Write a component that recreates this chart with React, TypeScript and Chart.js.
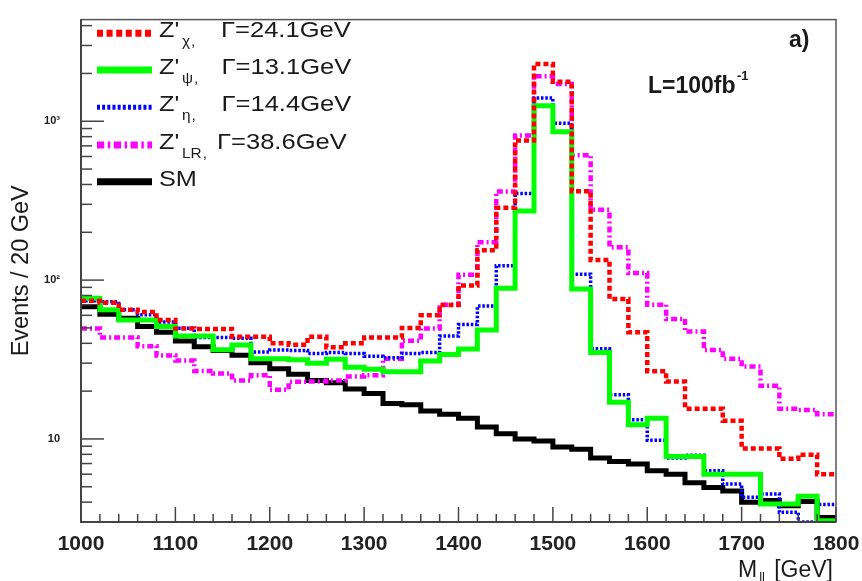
import React, { useEffect, useRef } from 'react';
import { Chart, registerables } from 'chart.js';

Chart.register(...registerables);

// Bin low edges (20 GeV bins) and upper edge of last bin
const binLowEdges = [
  1000, 1020, 1040, 1060, 1080, 1100, 1120, 1140, 1160, 1180,
  1200, 1220, 1240, 1260, 1280, 1300, 1320, 1340, 1360, 1380,
  1400, 1420, 1440, 1460, 1480, 1500, 1520, 1540, 1560, 1580,
  1600, 1620, 1640, 1660, 1680, 1700, 1720, 1740, 1760, 1780,
];
const lastUpperEdge = 1800;

const zChi = [
  74, 72, 65, 63, 56, 49.5, 49.3, 49.3, 44, 44,
  40, 39.2, 44, 37.8, 40, 43.5, 43.5, 50, 60, 69.7,
  92.5, 154, 285, 757, 2296, 1770, 362, 134, 76, 47,
  26.7, 23, 15.5, 15.5, 13, 8.7, 8.7, 7.5, 7.95, 6.0,
];
const zPsi = [
  77, 65, 56, 56, 51, 44.5, 44.5, 36.5, 39, 32,
  32, 31.5, 30, 31.7, 28.3, 27.5, 26.5, 26.5, 31, 34,
  36.8, 48.5, 89, 272, 1250, 860, 88, 35, 17, 12.3,
  13.5, 7.75, 7.75, 6.0, 6.0, 6.0, 3.9, 3.9, 4.35, 3.05,
];
const zEta = [
  74, 73, 65, 60.5, 54.5, 49.7, 43.5, 43.5, 43, 35.3,
  36.3, 36, 34.5, 35, 34.5, 33.2, 32.4, 34.5, 35, 44.5,
  52.5, 68.7, 123, 351, 1400, 973, 109, 37, 19, 13.2,
  9.8, 7.6, 7.9, 6.3, 5.2, 4.3, 4.5, 3.45, 3.0, 3.87,
];
const zLR = [
  49.5, 43.5, 43.5, 38.3, 33.5, 31.2, 26.8, 25.8, 23.3, 25.2,
  20.4, 22.9, 23, 23.3, 24.7, 25.2, 32, 41.5, 49.5, 70,
  108, 173, 361, 812, 1918, 1714, 611, 277, 161, 111,
  70, 57, 47.5, 36.3, 32, 28.6, 21.6, 15.5, 15.2, 14.3,
];
const smBackground = [
  68, 61, 57.5, 51, 47, 41.4, 38, 36, 33.7, 30.2,
  27.7, 25.5, 23.3, 22.6, 20.6, 19.3, 16.7, 16.4, 15.0, 14.3,
  13.5, 11.9, 10.8, 10.0, 9.7, 8.9, 8.6, 7.6, 7.2, 6.95,
  6.3, 6.0, 5.3, 4.95, 4.7, 4.0, 4.1, 3.8, 4.04, 3.2,
];

const yTickValues = [10, 100, 1000];
const yTickLabels = ['10', '10²', '10³'];

const legendMain = ["Z'", "Z'", "Z'", "Z'", 'SM'];
const legendSub = ['χ', 'ψ', 'η', 'LR', ''];
const legendWidth = ['Γ=24.1GeV', 'Γ=13.1GeV', 'Γ=14.4GeV', 'Γ=38.6GeV', ''];

const FONT = '"Liberation Sans", Arial, Helvetica, sans-serif';
const TEXT = '#1a1a1a';

type Style = { color: string; width: number; dash: number[]; lw: number };
const styles: Style[] = [
  { color: '#ff0000', width: 4.5, dash: [5, 3], lw: 7 },
  { color: '#00ff00', width: 5, dash: [], lw: 7 },
  { color: '#0000ff', width: 3.5, dash: [2.5, 1.8], lw: 5 },
  { color: '#ff00ff', width: 4.5, dash: [6, 3, 2, 3], lw: 7 },
  { color: '#000000', width: 5, dash: [], lw: 7 },
];

function toSteps(vals: number[]) {
  const pts = binLowEdges.map((x, i) => ({ x, y: vals[i] }));
  pts.push({ x: lastUpperEdge, y: vals[vals.length - 1] });
  return pts;
}

function drawScaled(ctx: CanvasRenderingContext2D, s: string, x: number, y: number, sx: number) {
  ctx.save();
  ctx.translate(x, y);
  ctx.scale(sx, 1);
  ctx.fillText(s, 0, 0);
  ctx.restore();
}

const overlay = {
  id: 'overlay',
  afterDatasetsDraw(chart: any) {
    const { ctx, chartArea } = chart;
    const { left, right, top, bottom } = chartArea;
    const xs = chart.scales.x;
    const ys = chart.scales.y;
    ctx.save();
    ctx.setLineDash([]);
    // frame
    ctx.strokeStyle = '#555';
    ctx.lineWidth = 1.5;
    ctx.strokeRect(left, top, right - left, bottom - top);
    ctx.lineWidth = 2;
    ctx.strokeStyle = '#444';
    ctx.beginPath();
    ctx.moveTo(left, top);
    ctx.lineTo(left, bottom);
    ctx.lineTo(right, bottom);
    ctx.stroke();
    // x ticks (inside)
    ctx.lineWidth = 1.5;
    for (let v = xs.min; v <= xs.max; v += 20) {
      const px = xs.getPixelForValue(v);
      const len = v % 100 === 0 ? 15 : 8;
      ctx.beginPath();
      ctx.moveTo(px, bottom);
      ctx.lineTo(px, bottom - len);
      ctx.stroke();
    }
    // y ticks (inside)
    for (const dec of [1, 10, 100, 1000]) {
      for (let m = 1; m <= 9; m++) {
        const val = m * dec;
        if (val < ys.min || val > ys.max) continue;
        const py = ys.getPixelForValue(val);
        const len = m === 1 ? 23 : 11;
        ctx.beginPath();
        ctx.moveTo(left, py);
        ctx.lineTo(left + len, py);
        ctx.stroke();
      }
    }

    // legend
    const rowY = [33.3, 70, 107.3, 145, 181.7];
    const gx = [221, 221.5, 221.5, 217, 0];
    for (let i = 0; i < legendMain.length; i++) {
      const st = styles[i];
      ctx.strokeStyle = st.color;
      ctx.lineWidth = st.lw;
      ctx.setLineDash(st.dash.map((d) => d * 1.2));
      ctx.beginPath();
      ctx.moveTo(97, rowY[i]);
      ctx.lineTo(152, rowY[i]);
      ctx.stroke();
      ctx.setLineDash([]);
      ctx.fillStyle = TEXT;
      ctx.textBaseline = 'alphabetic';
      ctx.textAlign = 'left';
      ctx.font = `22px ${FONT}`;
      const base = rowY[i] + 4;
      drawScaled(ctx, legendMain[i], 159, base, 1.15);
      if (legendSub[i]) {
        ctx.font = `14px ${FONT}`;
        drawScaled(ctx, legendSub[i], 182, base + 9, 1.1);
        const w = ctx.measureText(legendSub[i]).width * 1.1;
        drawScaled(ctx, ',', 183 + w, base + 9, 1.1);
        ctx.font = `22px ${FONT}`;
        drawScaled(ctx, legendWidth[i], gx[i], base, 1.16);
      }
    }

    // annotations
    ctx.fillStyle = TEXT;
    ctx.font = `bold 23px ${FONT}`;
    ctx.fillText('a)', 789, 47);
    ctx.fillText('L=100fb', 648, 93);
    ctx.font = `bold 13px ${FONT}`;
    ctx.fillText('-1', 737, 80);

    // x-axis title
    ctx.font = `23px ${FONT}`;
    ctx.fillText('M', 738, 577);
    const mw = ctx.measureText('M').width;
    ctx.font = `13px ${FONT}`;
    ctx.fillText('ll', 738 + mw + 2, 581);
    ctx.font = `23px ${FONT}`;
    ctx.textAlign = 'right';
    ctx.fillText('[GeV]', 833, 577);
    ctx.restore();
  },
};

export default function App() {
  const ref = useRef<HTMLCanvasElement | null>(null);
  useEffect(() => {
    if (!ref.current) return;
    const series = [zChi, zPsi, zEta, zLR, smBackground];
    const names = ["Z'χ", "Z'ψ", "Z'η", "Z'LR", 'SM'];
    const datasets = series.map((vals, i) => ({
      label: names[i],
      data: toSteps(vals),
      stepped: 'before' as const,
      borderColor: styles[i].color,
      borderWidth: styles[i].width,
      borderDash: styles[i].dash,
      pointRadius: 0,
      fill: false,
      tension: 0,
      order: i + 1,
    }));
    const chart = new Chart(ref.current, {
      type: 'line',
      data: { datasets },
      options: {
        animation: false,
        responsive: false,
        devicePixelRatio: 1,
        layout: { padding: { top: 8, right: 26, left: 0, bottom: 0 } },
        plugins: { legend: { display: false }, tooltip: { enabled: false } },
        scales: {
          x: {
            type: 'linear',
            min: 1000,
            max: 1800,
            grid: { display: false },
            border: { display: false },
            ticks: {
              stepSize: 100,
              autoSkip: false,
              maxRotation: 0,
              padding: 2,
              color: '#222',
              font: { family: FONT, size: 21, weight: 'bold' },
              callback: (v: any) => String(v),
            },
            afterFit: (s: any) => {
              s.height = 59;
            },
          },
          y: {
            type: 'logarithmic',
            min: 3,
            max: 4365,
            grid: { display: false },
            border: { display: false },
            afterBuildTicks: (s: any) => {
              s.ticks = yTickValues.map((v) => ({ value: v }));
            },
            ticks: {
              padding: 13,
              color: '#222',
              font: { family: FONT, size: 11, weight: 'bold' },
              callback: (v: any) => {
                const i = yTickValues.indexOf(Number(v));
                return i >= 0 ? yTickLabels[i] : '';
              },
            },
            title: {
              display: true,
              text: 'Events / 20 GeV',
              color: TEXT,
              font: { family: FONT, size: 23.5 },
              padding: { top: 7, bottom: 0 },
            },
            afterFit: (s: any) => {
              s.width = 81;
            },
          },
        },
      },
      plugins: [overlay],
    });
    return () => chart.destroy();
  }, []);
  return (
    <div style={{ position: 'absolute', left: 0, top: 0, width: 862, height: 581, background: '#fff' }}>
      <canvas ref={ref} width={862} height={581} style={{ display: 'block' }} />
    </div>
  );
}
